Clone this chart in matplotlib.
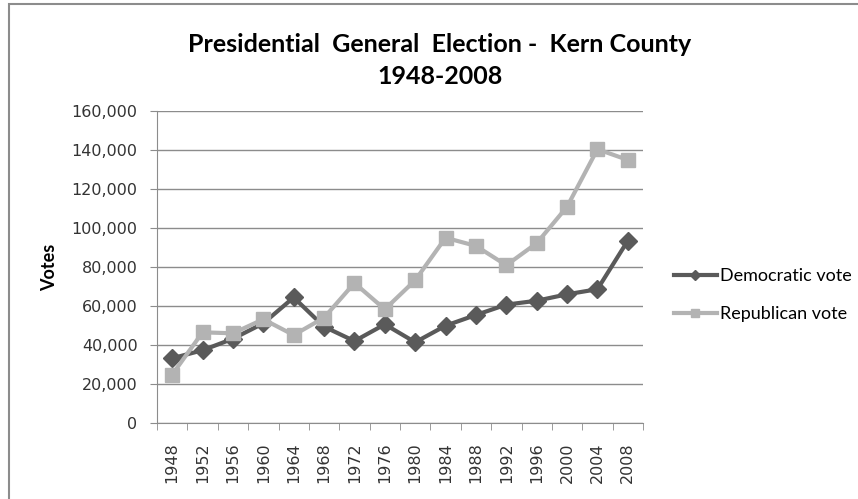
import matplotlib
matplotlib.use("Agg")
import matplotlib.pyplot as plt
from matplotlib.patches import Rectangle
import numpy as np

years = ["1948", "1952", "1956", "1960", "1964", "1968", "1972", "1976",
         "1980", "1984", "1988", "1992", "1996", "2000", "2004", "2008"]
dem_vote = [33200, 37300, 43200, 51100, 64400, 49400, 42000, 50600,
            41400, 49900, 55400, 60700, 62700, 66000, 68600, 93500]
rep_vote = [24800, 46500, 46000, 53200, 45100, 54000, 71800, 58300,
            73200, 95000, 90800, 80900, 92200, 110900, 140400, 134900]

DEM = "#5a5a5a"
REP = "#b3b3b3"
GRID = "#8c8c8c"
TXT = "Lato"

W, H = 858, 499
fig = plt.figure(figsize=(W / 100, H / 100), dpi=100)
ax = fig.add_axes([157 / W, 1 - 423 / H, (643 - 157) / W, (423 - 111) / H])

# cadre du graphique (seulement haut et gauche visibles)
fig.patches.append(Rectangle((9 / W, -0.1), 1.2, 1 - 4 / H + 0.1,
                             transform=fig.transFigure, fill=False,
                             edgecolor="#8c8c8c", lw=1.5))

x = np.arange(len(years))
ax.plot(x, dem_vote, color=DEM, lw=3, marker="D", ms=9, label="Democratic vote")
ax.plot(x, rep_vote, color=REP, lw=3, marker="s", ms=10.5, label="Republican vote")

ax.set_xlim(-0.5, len(years) - 0.5)
ax.set_ylim(0, 160000)
ax.set_yticks(np.arange(0, 160001, 20000))
ax.set_yticklabels([f"{v:,}" for v in range(0, 160001, 20000)], fontsize=11.5,
                   color="#333333")
ax.yaxis.grid(True, color=GRID, lw=1)
ax.set_axisbelow(True)

ax.set_xticks(x)
ax.set_xticklabels(years, rotation=90, fontsize=11.5, color="#333333")
ax.tick_params(axis="x", length=0, pad=14)
ax.set_xticks(np.arange(-0.5, len(years)), minor=True)
ax.tick_params(axis="x", which="minor", length=5, color=GRID, direction="out")
ax.tick_params(axis="y", length=5, color=GRID, direction="out", pad=9)

for side in ["top", "right"]:
    ax.spines[side].set_visible(False)
ax.spines["left"].set_color(GRID)
ax.spines["bottom"].set_color(GRID)

ax.set_ylabel("Votes", fontsize=13, fontweight="bold", family=TXT, labelpad=10)

fig.text(440 / W, 1 - 45 / H, "Presidential  General  Election -  Kern County",
         ha="center", va="center", fontsize=18, fontweight="bold", family=TXT)
fig.text(440 / W, 1 - 77 / H, "1948-2008",
         ha="center", va="center", fontsize=18, fontweight="bold", family=TXT)

leg = ax.legend(loc="center left", bbox_to_anchor=(1.03, 0.41), frameon=False,
                prop={"family": TXT, "size": 13}, handlelength=2.4,
                handletextpad=0.15, labelspacing=1.2, markerscale=0.6)

fig.savefig("out.png", dpi=100)
